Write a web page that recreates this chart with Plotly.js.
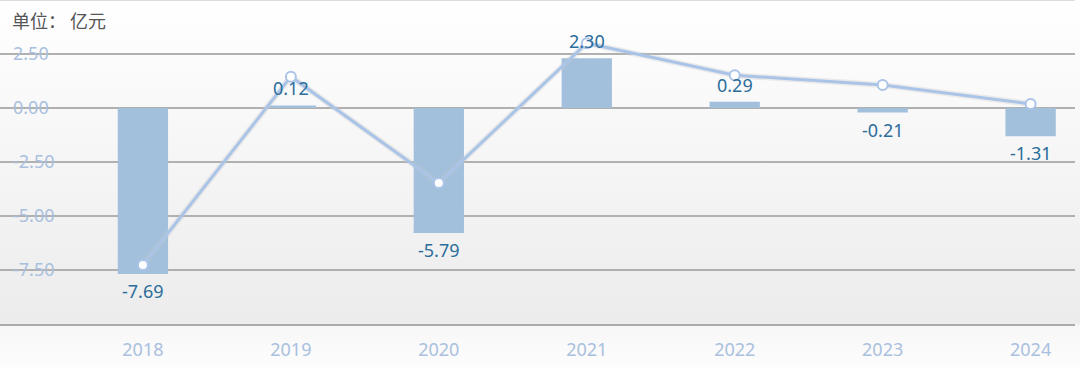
<!DOCTYPE html>
<html>
<head>
<meta charset="utf-8">
<script src="https://cdn.plot.ly/plotly-3.0.1.min.js"></script>
<style>
html,body{margin:0;padding:0;}
#chart{width:1080px;height:369px;background:linear-gradient(to bottom,#ffffff 0px,#f6f6f6 150px,#ececec 323px,#f7f7f7 326px,#fdfdfd 369px);}
</style>
</head>
<body>
<div id="chart"></div>
<script>
const years = ['2018','2019','2020','2021','2022','2023','2024'];
const barValues = [-7.69, 0.12, -5.79, 2.30, 0.29, -0.21, -1.31];
const lineValues = [-7.27, 1.45, -3.47, 3.0, 1.52, 1.06, 0.19];
const yTickVals = [-7.5, -5, -2.5, 0, 2.5];
const yTickText = ['-7.50', '-5.00', '-2.50', '0.00', '2.50'];
const unitLabel = '单位： 亿元';

const idx = years.map((_, i) => i);

const barTrace = {
  type: 'bar', x: idx, y: barValues, width: 0.34,
  marker: {color: '#a2c0dc'}, hoverinfo: 'skip'
};
const glowTrace = {
  type: 'scatter', mode: 'lines', x: idx, y: lineValues,
  line: {color: 'rgba(200,200,200,0.3)', width: 6}, hoverinfo: 'skip'
};
const lineTrace = {
  type: 'scatter', mode: 'lines+markers', x: idx, y: lineValues,
  line: {color: '#aac4e8', width: 3},
  marker: {size: 10, color: '#ffffff', line: {color: '#aac4e8', width: 2}},
  hoverinfo: 'skip'
};

const annotations = barValues.map((v, i) => ({
  x: i, y: v, xref: 'x', yref: 'y',
  text: v.toFixed(2), showarrow: false,
  yanchor: v >= 0 ? 'bottom' : 'top', yshift: v >= 0 ? 3 : -3,
  font: {family: 'Noto Sans, sans-serif', size: 18, color: '#2c6d9b'}
}));
annotations.push({
  xref: 'paper', yref: 'paper', x: 0, y: 1, xanchor: 'left', yanchor: 'top',
  xshift: 10, yshift: -5, text: unitLabel, showarrow: false,
  font: {family: 'Noto Sans CJK SC, sans-serif', size: 18, color: '#555555'}
});

const layout = {
  width: 1080, height: 369,
  margin: {l: 0, r: 5, t: 0, b: 45},
  paper_bgcolor: 'rgba(0,0,0,0)', plot_bgcolor: 'rgba(0,0,0,0)',
  showlegend: false,
  xaxis: {
    range: [-0.966, 6.30], tickvals: idx, ticktext: years,
    showgrid: false, zeroline: false, showline: true, linecolor: '#aaaaaa', linewidth: 2,
    ticks: '', ticklabelstandoff: 8,
    tickfont: {family: 'Noto Sans, sans-serif', size: 18, color: '#a9c0df'}
  },
  yaxis: {
    range: [-10, 5], tickvals: yTickVals, ticktext: yTickText,
    ticklabelposition: 'inside', ticklabelstandoff: 10,
    showgrid: true, gridcolor: '#b0b0b0', gridwidth: 2, zeroline: false,
    showline: false, ticks: '',
    tickfont: {family: 'Noto Sans, sans-serif', size: 18, color: '#a9c0df'}
  },
  shapes: [{type: 'line', xref: 'paper', yref: 'paper', x0: 0, x1: 1, y0: 1, y1: 1,
            line: {color: '#dddddd', width: 2}}],
  annotations: annotations
};

Plotly.newPlot('chart', [barTrace, glowTrace, lineTrace], layout, {staticPlot: true, displayModeBar: false});
</script>
</body>
</html>
